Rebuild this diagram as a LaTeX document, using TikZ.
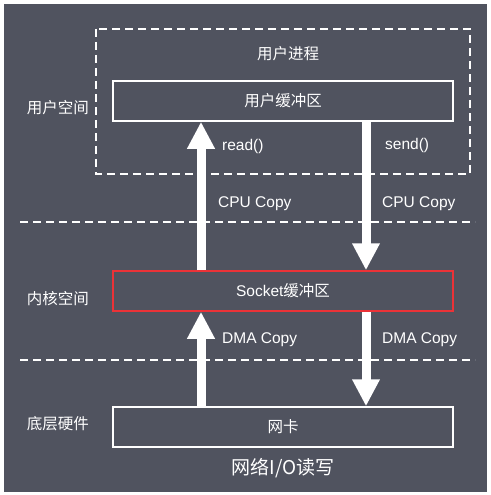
\documentclass[tikz,border=0pt]{standalone}
\usepackage{fontspec}
\setmainfont{Liberation Sans}
\newfontfamily\cjk{Noto Sans CJK SC}
\usetikzlibrary{arrows.meta}

\definecolor{bg}{RGB}{80,83,95}
\definecolor{redline}{RGB}{235,50,55}

\tikzset{
    txt/.style={text=white, font=\fontsize{15.5}{17}\selectfont, inner sep=0pt},
    buf/.style={draw=white, line width=1.5pt, minimum width=340pt, minimum height=40pt, txt},
    sep/.style={draw=white, line width=2pt, dash pattern=on 8pt off 5pt},
    flow/.style={draw=white, line width=9pt, -{Triangle[width=26pt,length=27pt]}}
}

\begin{document}
\begin{tikzpicture}[x=1pt,y=-1pt]

\useasboundingbox (0,0) rectangle (490,495);
\fill[white] (0,0) rectangle (490,495);
\fill[bg] (4,4) rectangle (487,492);

% user process
\draw[sep] (96,29) rectangle (470,174);
\node[txt] (proc) at (288,54) {\cjk 用户进程};

% buffers
\node[buf] (ubuf) at (283,101) {\cjk 用户缓冲区};
\node[buf, draw=redline] (sock) at (283,291) {Socket\cjk 缓冲区};
\node[buf] (nic) at (283,427) {\cjk 网卡};

% layers
\draw[sep] (20,222) -- (475,222);
\draw[sep] (20,360) -- (475,360);

\node[txt] (user) at (58,108) {\cjk 用户空间};
\node[txt] (kern) at (58,299) {\cjk 内核空间};
\node[txt] (hw) at (58,424) {\cjk 底层硬件};

% copies
\draw[flow] ([xshift=-82pt]sock.north) -- ([xshift=-82pt]ubuf.south);
\draw[flow] ([xshift=83pt]ubuf.south) -- ([xshift=83pt]sock.north);
\draw[flow] ([xshift=-82pt]nic.north) -- ([xshift=-82pt]sock.south);
\draw[flow] ([xshift=83pt]sock.south) -- ([xshift=83pt]nic.north);

\node[txt, anchor=west] (rd) at (222,146) {read()};
\node[txt, anchor=west] (sd) at (385,145) {send()};
\node[txt, anchor=west] (cpu1) at (218,204) {CPU Copy};
\node[txt, anchor=west] (cpu2) at (382,204) {CPU Copy};
\node[txt, anchor=west] (dma1) at (222,340) {DMA Copy};
\node[txt, anchor=west] (dma2) at (382,340) {DMA Copy};

\node[txt, font=\fontsize{19}{21}\selectfont] (title) at (283,468) {\cjk 网络I/O读写};

\end{tikzpicture}
\end{document}
